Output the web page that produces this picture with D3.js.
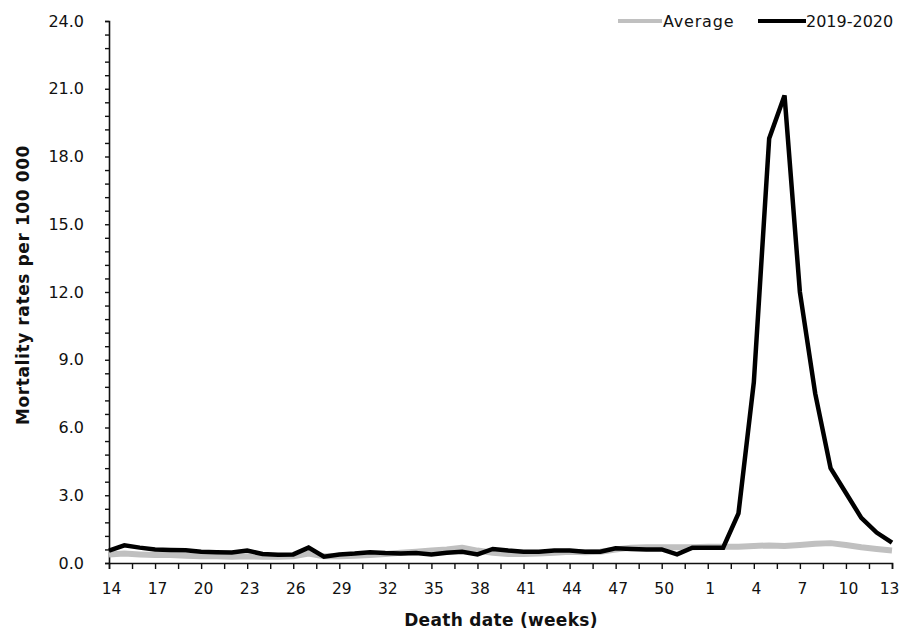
<!DOCTYPE html>
<html>
<head>
<meta charset="utf-8">
<script src="https://cdn.jsdelivr.net/npm/d3@7/dist/d3.min.js"></script>
<style>
  html, body { margin: 0; padding: 0; background: #fff; }
  svg { display: block; }
  text { font-family: "DejaVu Sans", Verdana, sans-serif; fill: #111; }
</style>
</head>
<body>
<svg id="chart" width="902" height="633"></svg>
<script>
// ---- data ----
const weeks = [14,15,16,17,18,19,20,21,22,23,24,25,26,27,28,29,30,31,32,33,34,35,36,37,38,39,40,41,42,43,44,45,46,47,48,49,50,51,52,1,2,3,4,5,6,7,8,9,10,11,12,13];
const season = [0.55,0.78,0.68,0.60,0.58,0.56,0.50,0.48,0.47,0.55,0.40,0.36,0.38,0.68,0.28,0.38,0.42,0.48,0.44,0.42,0.44,0.38,0.45,0.50,0.38,0.62,0.55,0.50,0.50,0.55,0.55,0.50,0.50,0.65,0.62,0.60,0.60,0.38,0.68,0.68,0.68,2.20,8.00,18.80,20.70,12.00,7.50,4.20,3.10,2.00,1.35,0.90];
const average = [0.38,0.42,0.38,0.35,0.35,0.32,0.30,0.30,0.28,0.30,0.28,0.28,0.30,0.42,0.30,0.30,0.32,0.35,0.40,0.45,0.50,0.55,0.60,0.68,0.55,0.45,0.40,0.40,0.42,0.45,0.50,0.48,0.50,0.60,0.68,0.70,0.70,0.70,0.70,0.72,0.72,0.72,0.75,0.78,0.75,0.80,0.85,0.88,0.80,0.70,0.62,0.55];
const yTicks = [0,3,6,9,12,15,18,21,24];
const seriesNames = ["Average","2019-2020"];
const xTitle = "Death date (weeks)";
const yTitle = "Mortality rates per 100 000";

// ---- layout ----
const svg = d3.select("#chart");
const x = d3.scaleLinear().domain([0, weeks.length - 1]).range([109, 892]);
const y = d3.scaleLinear().domain([0, 24]).range([563, 21]);

// y axis
const yAxis = d3.axisLeft(y)
  .tickValues(d3.range(0, 24.001, 0.6))
  .tickSize(4)
  .tickFormat(d => yTicks.some(t => Math.abs(t - d) < 1e-6) ? d3.format(".1f")(d) : "");
const gy = svg.append("g").attr("transform", "translate(109,0)").call(yAxis);
gy.select(".domain").attr("stroke", "#111").attr("stroke-width", 1.6);
gy.selectAll(".tick line").attr("stroke", "#111").attr("stroke-width", 1.4);
gy.selectAll(".tick text").attr("x", -25).attr("font-size", 16).attr("fill", "#111");

// x axis
const lastIdx = weeks.length - 1;
const xTickVals = d3.range(0, weeks.length - 0.99, 1.5);
const xAxis = d3.axisBottom(x)
  .tickValues(xTickVals)
  .tickSize(6)
  .tickFormat(d => Number.isInteger(d) && d % 3 === 0 ? String(weeks[d]) : "");
const gx = svg.append("g").attr("transform", "translate(0,563)").call(xAxis);
gx.select(".domain").attr("stroke", "#111").attr("stroke-width", 1.6);
gx.selectAll(".tick line").attr("stroke", "#111").attr("stroke-width", 1.4);
gx.selectAll(".tick text").attr("y", 20).attr("font-size", 15.5).attr("fill", "#111")
  .attr("dx", d => d === lastIdx ? -3 : 2);

// titles
svg.append("text").attr("x", 501).attr("y", 626).attr("text-anchor", "middle")
  .attr("font-size", 17).attr("letter-spacing", 0.3).attr("font-weight", "bold").text(xTitle);
svg.append("text").attr("transform", "translate(29,285) rotate(-90)").attr("text-anchor", "middle")
  .attr("font-size", 17).attr("letter-spacing", 0.6).attr("font-weight", "bold").text(yTitle);

// lines
const line = d3.line().x((d, i) => x(i)).y(d => y(d));
svg.append("path").datum(average).attr("d", line)
  .attr("fill", "none").attr("stroke", "#c0c0c0").attr("stroke-width", 6).attr("stroke-linejoin", "round");
svg.append("path").datum(season).attr("d", line)
  .attr("fill", "none").attr("stroke", "#000").attr("stroke-width", 4.5).attr("stroke-linejoin", "miter");

// legend
const leg = svg.append("g");
leg.append("line").attr("x1", 618).attr("x2", 662).attr("y1", 21).attr("y2", 21)
  .attr("stroke", "#c0c0c0").attr("stroke-width", 4);
leg.append("text").attr("x", 663).attr("y", 27).attr("font-size", 16).attr("letter-spacing", 0.8).text(seriesNames[0]);
leg.append("line").attr("x1", 758).attr("x2", 806).attr("y1", 21).attr("y2", 21)
  .attr("stroke", "#000").attr("stroke-width", 4);
leg.append("text").attr("x", 806).attr("y", 27).attr("font-size", 16).text(seriesNames[1]);
</script>
</body>
</html>
